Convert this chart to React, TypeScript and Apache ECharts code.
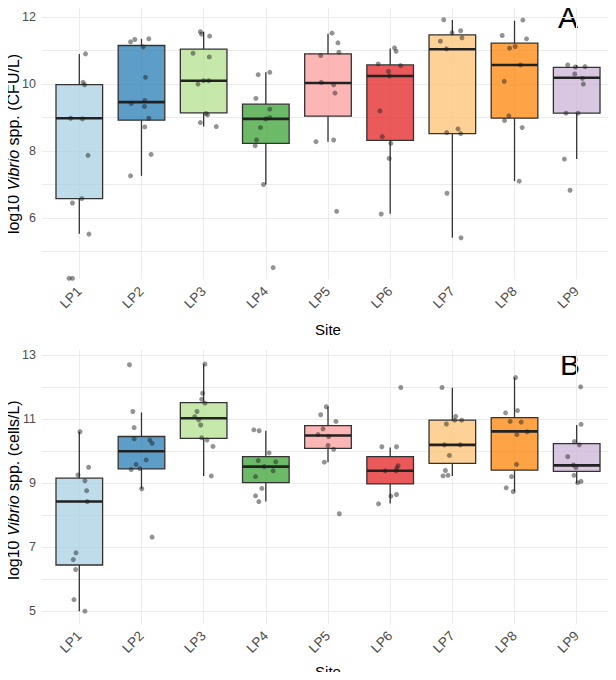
import React, { useEffect, useRef } from "react";
import * as echarts from "echarts";

const sites = ["LP1", "LP2", "LP3", "LP4", "LP5", "LP6", "LP7", "LP8", "LP9"];
const siteColors = ["#A6CEE3", "#1F78B4", "#B2DF8A", "#33A02C", "#FB9A99", "#E31A1C", "#FDBF6F", "#FF7F00", "#CAB2D6"];

// Box statistics per site: [lower whisker, Q1, median, Q3, upper whisker]
const cfuBoxes = [
  [5.53, 6.58, 8.98, 9.98, 10.9],
  [7.26, 8.92, 9.46, 11.15, 11.35],
  [8.73, 9.14, 10.1, 11.04, 11.56],
  [7.0, 8.23, 8.96, 9.4, 10.35],
  [8.28, 9.04, 10.03, 10.9, 11.5],
  [6.13, 8.32, 10.24, 10.57, 11.06],
  [5.41, 8.52, 11.04, 11.47, 11.91],
  [7.1, 8.98, 10.57, 11.22, 11.89],
  [7.76, 9.13, 10.19, 10.5, 10.56],
];

// Individual samples (log10 CFU/L) and their horizontal jitter per site
const cfuPoints = [
  [10.9, 10.05, 9.98, 8.98, 8.96, 7.87, 6.58, 6.45, 5.52, 4.2, 4.2],
  [11.26, 11.33, 11.35, 11.11, 10.2, 9.42, 9.51, 9.33, 8.98, 8.72, 7.9, 7.26],
  [11.56, 11.49, 11.43, 10.92, 10.81, 10.0, 10.1, 10.1, 9.12, 9.08, 8.85, 8.73],
  [10.28, 10.35, 9.57, 9.25, 8.96, 9.0, 8.7, 8.33, 8.16, 7.0, 4.52],
  [11.52, 11.23, 10.95, 10.85, 10.05, 9.98, 9.73, 8.28, 8.33, 6.2],
  [11.08, 10.98, 10.6, 10.55, 10.38, 10.24, 9.2, 8.43, 8.23, 7.78, 6.12],
  [11.92, 11.59, 11.53, 11.38, 11.28, 11.05, 8.66, 8.55, 8.52, 6.74, 5.41],
  [11.91, 11.45, 11.35, 11.07, 11.12, 10.57, 10.08, 9.05, 8.91, 8.7, 7.1],
  [10.57, 10.51, 10.52, 10.3, 10.17, 10.0, 9.13, 9.13, 7.76, 6.83],
];
const cfuJitter = [
  [0.1, 0.06, 0.085, -0.14, 0.05, 0.14, 0.04, -0.11, 0.155, -0.165, -0.11],
  [-0.176, -0.107, 0.118, 0.027, 0.064, -0.166, 0.053, 0.048, 0.118, 0.053, 0.155, -0.176],
  [-0.053, -0.032, 0.096, -0.171, 0.091, -0.091, 0, 0.08, 0.037, 0.064, -0.053, 0.203],
  [-0.123, 0.064, -0.16, 0.064, 0, 0.064, -0.086, -0.15, -0.171, -0.037, 0.118],
  [0.064, 0.16, 0.176, -0.118, -0.107, 0.091, 0.112, -0.193, 0.091, 0.139],
  [0.07, 0.096, -0.193, 0.166, -0.027, -0.011, -0.166, -0.128, 0.011, -0.016, -0.144],
  [-0.139, 0.134, -0.005, 0.155, -0.193, -0.096, 0.091, -0.091, 0.134, -0.086, 0.139],
  [0.134, -0.198, 0.193, -0.08, 0.011, 0.096, -0.166, -0.091, -0.16, 0.123, 0.075],
  [-0.144, -0.021, 0.134, -0.032, 0.091, 0.107, -0.171, 0.021, -0.198, -0.107],
];

const cellBoxes = [
  [5.0, 6.44, 8.42, 9.15, 10.6],
  [8.82, 9.44, 9.99, 10.45, 11.2],
  [9.22, 10.39, 11.02, 11.51, 12.71],
  [8.42, 9.01, 9.51, 9.82, 10.63],
  [9.65, 10.08, 10.48, 10.79, 11.38],
  [8.36, 8.97, 9.38, 9.82, 10.11],
  [9.22, 9.61, 10.19, 10.96, 11.97],
  [8.73, 9.4, 10.61, 11.04, 12.29],
  [8.99, 9.36, 9.55, 10.23, 10.81],
];

// Individual samples (log10 cells/L) and their horizontal jitter per site
const cellPoints = [
  [10.6, 9.49, 9.25, 9.07, 8.76, 8.42, 6.82, 6.61, 6.3, 5.36, 5.0],
  [12.69, 11.23, 10.73, 10.38, 10.34, 10.24, 9.72, 9.58, 9.42, 9.45, 8.82, 7.31],
  [12.71, 11.8, 11.61, 11.49, 11.23, 11.07, 10.97, 10.81, 10.41, 10.34, 10.14, 9.22],
  [10.66, 10.63, 9.94, 9.7, 9.66, 9.51, 9.38, 9.2, 8.83, 8.6, 8.42],
  [11.38, 11.13, 10.92, 10.69, 10.51, 10.45, 10.17, 10.05, 9.65, 8.04],
  [11.98, 10.13, 10.13, 9.54, 9.46, 9.38, 9.38, 8.59, 8.64, 8.35],
  [11.98, 11.08, 10.96, 10.96, 10.84, 10.19, 10.19, 9.86, 9.39, 9.22, 9.24],
  [12.29, 11.19, 11.26, 10.92, 10.9, 10.6, 10.51, 9.58, 9.2, 8.85, 8.73],
  [12.0, 10.83, 10.29, 10.19, 9.82, 9.56, 9.48, 9.24, 9.01, 9.05],
];
const cellJitter = [
  [0.011, 0.15, -0.021, 0.091, 0.118, 0.128, -0.053, -0.096, -0.059, -0.086, 0.091],
  [-0.193, -0.139, -0.118, -0.118, 0.134, 0.171, 0.075, -0.086, -0.166, -0.027, 0.005, 0.171],
  [0.021, -0.016, -0.032, 0.021, -0.107, -0.144, -0.08, -0.048, -0.032, 0.053, 0.15, 0.123],
  [-0.193, -0.107, 0.053, -0.123, 0.16, -0.027, 0.118, -0.166, -0.064, -0.166, -0.112],
  [-0.027, -0.118, 0.128, -0.08, -0.16, 0.011, 0, 0.091, -0.059, 0.182],
  [0.171, -0.134, 0.102, 0.128, 0.107, -0.08, 0.096, 0.011, 0.102, -0.187],
  [-0.166, 0.053, 0.037, 0.15, -0.096, -0.128, 0.128, -0.048, -0.112, -0.15, -0.07],
  [0.016, -0.144, 0.048, -0.07, 0.107, 0.203, 0.037, 0.032, -0.048, -0.134, -0.021],
  [0.064, 0.07, -0.037, 0.043, -0.144, -0.053, -0.011, -0.043, 0.016, 0.07],
];

const cfuTicks = [6, 8, 10, 12];
const cfuGrid = [5, 6, 7, 8, 9, 10, 11, 12];
const cellTicks = [5, 7, 9, 11, 13];
const cellGrid = [5, 6, 7, 8, 9, 10, 11, 12, 13];

const FONT = "'Liberation Sans', Arial, sans-serif";

function withAlpha(hex: string, a: number) {
  const n = parseInt(hex.slice(1), 16);
  return `rgba(${(n >> 16) & 255},${(n >> 8) & 255},${n & 255},${a})`;
}

function renderBox(params: any, api: any) {
  const x = api.value(0);
  const pMin = api.coord([x, api.value(1)]);
  const pQ1 = api.coord([x, api.value(2)]);
  const pMed = api.coord([x, api.value(3)]);
  const pQ3 = api.coord([x, api.value(4)]);
  const pMax = api.coord([x, api.value(5)]);
  const half = api.size([0.375, 0])[0];
  const cx = pMed[0];
  const fill = withAlpha(siteColors[params.dataIndex], 0.72);
  const edge = { stroke: "#333333", lineWidth: 1.3 };
  return {
    type: "group",
    children: [
      { type: "line", shape: { x1: cx, y1: pMax[1], x2: cx, y2: pQ3[1] }, style: edge },
      { type: "line", shape: { x1: cx, y1: pQ1[1], x2: cx, y2: pMin[1] }, style: edge },
      {
        type: "rect",
        shape: { x: cx - half, y: pQ3[1], width: half * 2, height: pQ1[1] - pQ3[1] },
        style: { fill, stroke: "#333333", lineWidth: 1.3 },
      },
      {
        type: "line",
        shape: { x1: cx - half, y1: pMed[1], x2: cx + half, y2: pMed[1] },
        style: { stroke: "#222222", lineWidth: 2.6 },
      },
    ],
  };
}

function jittered(points: number[][], jitter: number[][]) {
  const out: number[][] = [];
  points.forEach((vals, i) => vals.forEach((v, j) => out.push([i + jitter[i][j], v])));
  return out;
}

function xAxisFor(gridIndex: number, nameGap: number) {
  return {
    type: "value",
    gridIndex,
    min: -0.6,
    max: 8.6,
    name: "Site",
    nameLocation: "middle",
    nameGap,
    nameTextStyle: { fontFamily: FONT, fontSize: 15, color: "#000" },
    axisLine: { show: false },
    axisTick: { show: false, customValues: sites.map((_, i) => i) },
    axisLabel: {
      customValues: sites.map((_, i) => i),
      formatter: (v: number) => sites[Math.round(v)] ?? "",
      rotate: 45,
      margin: 10,
      fontFamily: FONT,
      fontSize: 13.5,
      color: "#4D4D4D",
    },
    splitLine: { show: true, lineStyle: { color: "#EBEBEB", width: 1 } },
  };
}

function yAxisFor(gridIndex: number, min: number, max: number, ticks: number[], grid: number[]) {
  return {
    type: "value",
    gridIndex,
    min,
    max,
    axisLine: { show: false },
    axisTick: { show: false, customValues: grid },
    axisLabel: {
      customValues: ticks,
      margin: 6,
      fontFamily: FONT,
      fontSize: 12.5,
      color: "#4D4D4D",
    },
    splitLine: { show: true, lineStyle: { color: "#EBEBEB", width: 1 } },
  };
}

// Vertical y-axis title with the genus name in italics
function yTitle(unit: string, centerY: number) {
  return {
    type: "text",
    x: 13,
    y: centerY,
    rotation: Math.PI / 2,
    style: {
      text: `{a|log10 }{i|Vibrio}{a| spp. (${unit})}`,
      align: "center",
      verticalAlign: "middle",
      rich: {
        a: { fontFamily: FONT, fontSize: 16, fill: "#000" },
        i: { fontFamily: FONT, fontSize: 16, fontStyle: "italic", fill: "#000" },
      },
    },
  };
}

export default function App() {
  const ref = useRef<HTMLDivElement>(null);

  useEffect(() => {
    if (!ref.current) return;
    const chart = echarts.init(ref.current, undefined, { renderer: "svg" });
    chart.setOption({
      animation: false,
      backgroundColor: "#FFFFFF",
      grid: [
        { left: 42, right: 2, top: 7, height: 272, outerBoundsMode: "none", containLabel: false },
        { left: 42, right: 2, top: 350, height: 273.5, outerBoundsMode: "none", containLabel: false },
      ],
      xAxis: [xAxisFor(0, 43), xAxisFor(1, 40)],
      yAxis: [
        yAxisFor(0, 4.18, 12.3, cfuTicks, cfuGrid),
        yAxisFor(1, 4.615, 13.15, cellTicks, cellGrid),
      ],
      graphic: [
        yTitle("CFU/L", 144),
        yTitle("cells/L", 490),
        {
          type: "text",
          x: 568,
          y: 2,
          style: { text: "A", fontFamily: FONT, fontSize: 30, fill: "#000", align: "center", verticalAlign: "top" },
        },
        {
          type: "text",
          x: 570,
          y: 349,
          style: { text: "B", fontFamily: FONT, fontSize: 30, fill: "#000", align: "center", verticalAlign: "top" },
        },
      ],
      series: [
        {
          type: "custom",
          xAxisIndex: 0,
          yAxisIndex: 0,
          renderItem: renderBox,
          encode: { x: 0, y: [1, 2, 3, 4, 5] },
          data: cfuBoxes.map((b, i) => [i, ...b]),
          z: 2,
        },
        {
          type: "scatter",
          xAxisIndex: 0,
          yAxisIndex: 0,
          symbol: "circle",
          symbolSize: 5,
          itemStyle: { color: "rgba(30,30,30,0.6)" },
          data: jittered(cfuPoints, cfuJitter),
          z: 3,
        },
        {
          type: "custom",
          xAxisIndex: 1,
          yAxisIndex: 1,
          renderItem: renderBox,
          encode: { x: 0, y: [1, 2, 3, 4, 5] },
          data: cellBoxes.map((b, i) => [i, ...b]),
          z: 2,
        },
        {
          type: "scatter",
          xAxisIndex: 1,
          yAxisIndex: 1,
          symbol: "circle",
          symbolSize: 5,
          itemStyle: { color: "rgba(30,30,30,0.6)" },
          data: jittered(cellPoints, cellJitter),
          z: 3,
        },
      ],
    });
    return () => chart.dispose();
  }, []);

  return <div ref={ref} style={{ width: 616, height: 680, margin: -8 }} />;
}
